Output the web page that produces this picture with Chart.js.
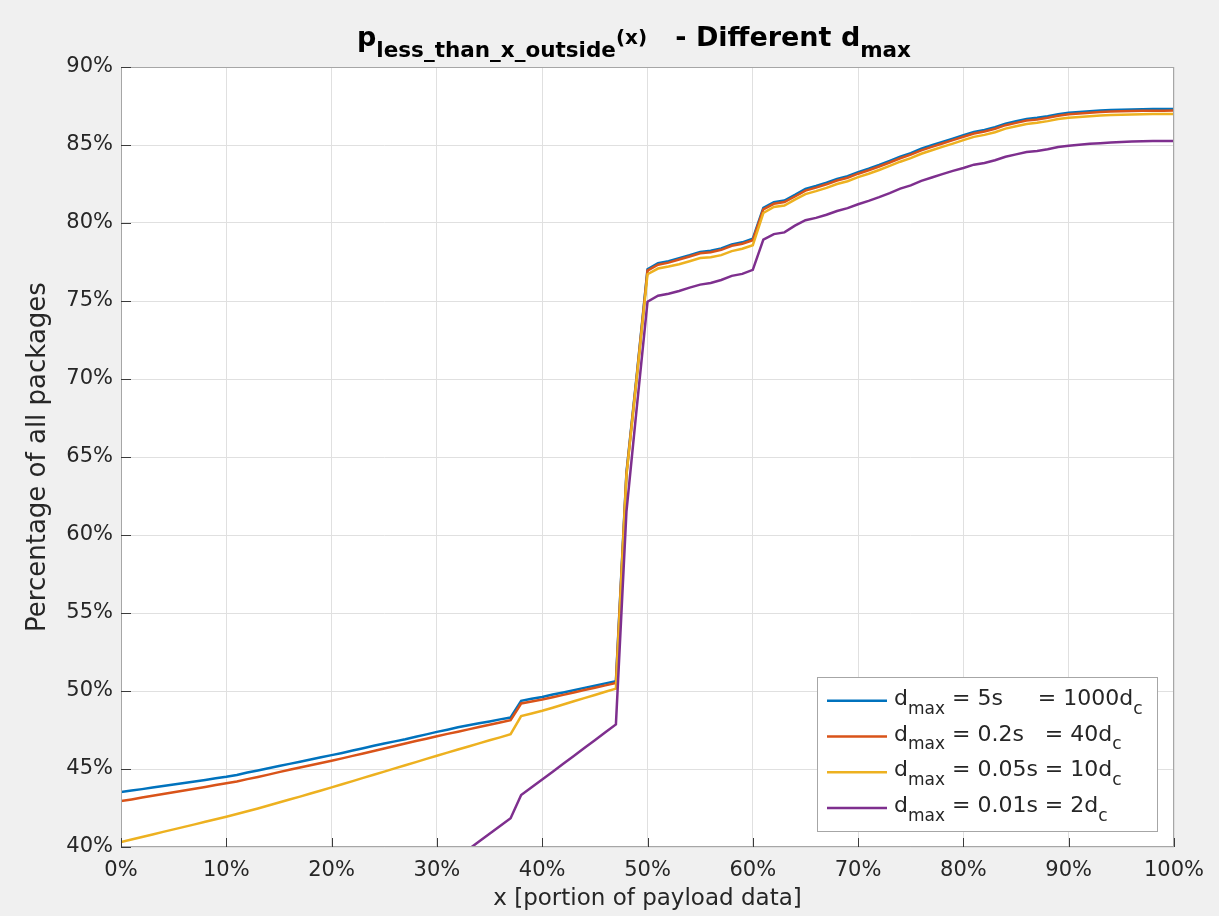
<!DOCTYPE html>
<html>
<head>
<meta charset="utf-8">
<script src="https://cdn.jsdelivr.net/npm/chart.js@4.4.1/dist/chart.umd.min.js"></script>
<style>
  html, body { margin: 0; padding: 0; background: #f0f0f0; }
  #wrap { width: 1219px; height: 916px; }
</style>
</head>
<body>
<div id="wrap"><canvas id="c" width="1219" height="916"></canvas></div>
<script>
// x: portion of payload data, in percent
const xPct = [0,1,2,3,4,5,6,7,8,9,10,11,12,13,14,15,16,17,18,19,20,21,22,23,24,25,26,27,28,29,30,
  31,32,33,34,35,36,37,38,39,40,41,42,43,44,45,46,47,48,49,50,51,52,53,54,55,56,57,58,59,60,
  61,62,63,64,65,66,67,68,69,70,71,72,73,74,75,76,77,78,79,80,81,82,83,84,85,86,87,88,89,90,
  91,92,93,94,95,96,97,98,99,100];

// share of packages (%) with less than x outside, per d_max setting
const dmax5s = [43.52,43.62,43.71,43.81,43.91,44.01,44.10,44.20,44.30,44.40,44.50,44.62,44.77,44.91,45.05,45.19,45.33,45.47,45.61,45.75,
  45.89,46.03,46.18,46.33,46.49,46.63,46.77,46.91,47.07,47.22,47.38,47.52,47.67,47.80,47.93,48.05,48.18,48.30,49.37,49.50,
  49.62,49.77,49.91,50.05,50.20,50.34,50.49,50.63,64.00,70.40,
  77.04,77.42,77.55,77.75,77.94,78.15,78.22,78.37,78.63,78.76,78.99,80.97,81.33,81.44,81.80,82.18,82.37,82.58,82.82,83.00,
  83.26,83.48,83.72,83.98,84.25,84.48,84.76,84.98,85.20,85.41,85.63,85.84,85.97,86.14,86.37,86.52,86.67,86.74,86.85,86.98,
  87.07,87.12,87.17,87.21,87.24,87.26,87.28,87.29,87.30,87.30,87.31];

const dmax02s = [42.94,43.05,43.17,43.28,43.40,43.51,43.62,43.74,43.85,43.97,44.08,44.20,44.35,44.49,44.64,44.80,44.95,45.09,45.24,45.38,
  45.53,45.68,45.84,45.99,46.15,46.31,46.47,46.63,46.79,46.94,47.10,47.25,47.39,47.54,47.69,47.84,47.98,48.13,49.20,49.33,
  49.45,49.60,49.75,49.90,50.06,50.21,50.36,50.51,63.90,70.30,
  76.95,77.33,77.46,77.66,77.85,78.06,78.13,78.28,78.54,78.67,78.90,80.87,81.23,81.34,81.70,82.08,82.27,82.48,82.72,82.90,
  83.16,83.38,83.62,83.88,84.15,84.38,84.66,84.88,85.10,85.31,85.53,85.74,85.87,86.04,86.27,86.42,86.57,86.64,86.75,86.88,
  86.97,87.02,87.07,87.11,87.14,87.16,87.18,87.19,87.20,87.20,87.21];

const dmax005s = [40.32,40.48,40.64,40.80,40.97,41.13,41.29,41.45,41.62,41.78,41.94,42.11,42.29,42.47,42.66,42.85,43.04,43.23,43.43,43.62,
  43.82,44.02,44.22,44.43,44.63,44.83,45.04,45.24,45.44,45.65,45.85,46.05,46.25,46.44,46.64,46.84,47.03,47.23,48.39,48.56,
  48.73,48.93,49.13,49.34,49.54,49.74,49.95,50.15,63.80,70.20,
  76.72,77.08,77.21,77.36,77.55,77.75,77.81,77.94,78.20,78.35,78.58,80.64,81.03,81.12,81.50,81.85,82.04,82.25,82.50,82.68,
  82.94,83.16,83.40,83.66,83.93,84.16,84.44,84.66,84.88,85.09,85.31,85.52,85.65,85.82,86.05,86.20,86.35,86.43,86.53,86.66,
  86.75,86.80,86.85,86.89,86.92,86.94,86.96,86.97,86.98,86.98,86.99];

const dmax001s = [null,null,null,null,null,null,null,null,null,null,null,null,null,null,null,null,null,null,null,null,
  null,null,null,null,null,null,null,null,null,null,null,null,39.35,39.85,40.35,40.85,41.35,41.84,43.33,43.83,
  44.33,44.83,45.34,45.84,46.35,46.85,47.36,47.86,61.50,68.30,
  74.95,75.34,75.47,75.64,75.86,76.05,76.16,76.35,76.61,76.74,77.00,78.93,79.29,79.40,79.83,80.18,80.33,80.53,80.77,80.95,
  81.20,81.42,81.66,81.92,82.20,82.41,82.70,82.92,83.13,83.34,83.53,83.74,83.85,84.02,84.25,84.40,84.55,84.62,84.73,84.87,
  84.95,85.02,85.08,85.12,85.16,85.20,85.22,85.24,85.25,85.25,85.26];

// legend entries as text runs: [text, isSubscript]
const legendEntries = [
  [['d', false], ['max', true], [' = 5s     = 1000d', false], ['c', true]],
  [['d', false], ['max', true], [' = 0.2s   = 40d', false], ['c', true]],
  [['d', false], ['max', true], [' = 0.05s = 10d', false], ['c', true]],
  [['d', false], ['max', true], [' = 0.01s = 2d', false], ['c', true]]
];
const seriesColors = ['#0072BD', '#D95319', '#EDB120', '#7E2F8E'];
const seriesValues = [dmax5s, dmax02s, dmax005s, dmax001s];

const titleRuns = [
  ['p', 'main'], ['less_than_x_outside', 'sub'], ['(x)', 'mid'], ['   - Different d', 'main'], ['max', 'sub']
];
const xTitle = 'x [portion of payload data]';
const yTitle = 'Percentage of all packages';

const FONT = 'DejaVu Sans';
const TEXT = '#262626';

function runFont(kind) {
  if (kind === 'main') return 'bold 27px "' + FONT + '"';
  if (kind === 'mid') return 'bold 20px "' + FONT + '"';
  return 'bold 21.5px "' + FONT + '"';
}

const decor = {
  id: 'decor',
  beforeDraw(chart) {
    const { ctx, chartArea: a } = chart;
    ctx.save();
    ctx.fillStyle = '#f0f0f0';
    ctx.fillRect(0, 0, chart.width, chart.height);
    ctx.fillStyle = '#ffffff';
    ctx.fillRect(a.left, a.top, a.right - a.left, a.bottom - a.top);
    ctx.restore();
  },
  afterDraw(chart) {
    const { ctx, chartArea: a } = chart;
    const xs = chart.scales.x, ys = chart.scales.y;
    ctx.save();

    // axes box
    ctx.strokeStyle = '#a6a6a6';
    ctx.lineWidth = 1;
    ctx.strokeRect(a.left + 0.5, a.top + 0.5, a.right - a.left - 1, a.bottom - a.top - 1);

    // inward tick marks on the left and bottom axes
    ctx.strokeStyle = '#3a3a3a';
    ctx.beginPath();
    ys.ticks.forEach(t => {
      const py = Math.round(ys.getPixelForValue(t.value)) + 0.5;
      ctx.moveTo(a.left, py); ctx.lineTo(a.left + 10, py);
    });
    xs.ticks.forEach(t => {
      const px = Math.round(xs.getPixelForValue(t.value)) + 0.5;
      ctx.moveTo(px, a.bottom); ctx.lineTo(px, a.bottom - 9);
    });
    ctx.stroke();

    // title with subscripts
    ctx.fillStyle = '#000';
    ctx.textBaseline = 'alphabetic';
    ctx.textAlign = 'left';
    const base = 46;
    const offs = { main: 0, sub: 11, mid: -2 };
    let total = 0;
    titleRuns.forEach(([t, k]) => { ctx.font = runFont(k); total += ctx.measureText(t).width; });
    let tx = 634 - total / 2;
    titleRuns.forEach(([t, k]) => {
      ctx.font = runFont(k);
      ctx.fillText(t, tx, base + offs[k]);
      tx += ctx.measureText(t).width;
    });

    // legend
    const lx = 817, ly = 677, lw = 340, lh = 154;
    ctx.fillStyle = '#ffffff';
    ctx.fillRect(lx, ly, lw, lh);
    ctx.strokeStyle = '#a6a6a6';
    ctx.lineWidth = 1;
    ctx.strokeRect(lx + 0.5, ly + 0.5, lw, lh);
    legendEntries.forEach((runs, i) => {
      const cy = 700.7 + i * 35.8;
      ctx.strokeStyle = seriesColors[i];
      ctx.lineWidth = 2.5;
      ctx.beginPath();
      ctx.moveTo(827, cy); ctx.lineTo(887, cy);
      ctx.stroke();
      let px = 894;
      ctx.fillStyle = TEXT;
      runs.forEach(([t, sub]) => {
        ctx.font = sub ? '17px "' + FONT + '"' : '22px "' + FONT + '"';
        ctx.fillText(t, px, cy + (sub ? 12.8 : 4));
        px += ctx.measureText(t).width;
      });
    });
    ctx.restore();
  }
};

const datasets = seriesValues.map((vals, i) => ({
  label: legendEntries[i].map(r => r[0]).join(''),
  data: xPct.map((x, j) => ({ x: x, y: vals[j] })),
  borderColor: seriesColors[i],
  backgroundColor: seriesColors[i],
  borderWidth: 2.5,
  pointRadius: 0,
  tension: 0,
  fill: false,
  spanGaps: false,
  order: 3 - i
}));

new Chart(document.getElementById('c'), {
  type: 'line',
  data: { datasets },
  plugins: [decor],
  options: {
    responsive: false,
    animation: false,
    events: [],
    layout: { padding: { left: 0, right: 45, top: 67, bottom: 0 } },
    plugins: {
      legend: { display: false },
      title: { display: false },
      tooltip: { enabled: false }
    },
    scales: {
      x: {
        type: 'linear', min: 0, max: 100,
        ticks: {
          stepSize: 10, autoSkip: false, maxRotation: 0, padding: 11,
          callback: v => v + '%',
          font: { family: FONT, size: 21 }, color: TEXT
        },
        grid: { color: '#e0e0e0', drawTicks: false },
        border: { display: false },
        title: {
          display: true, text: xTitle, color: TEXT,
          font: { family: FONT, size: 23 }, padding: { top: 0, bottom: 3 }
        },
        afterFit(s) { s.height = 69; }
      },
      y: {
        type: 'linear', min: 40, max: 90,
        ticks: {
          stepSize: 5, padding: 8,
          callback: v => v + '%',
          font: { family: FONT, size: 21 }, color: TEXT
        },
        grid: { color: '#e0e0e0', drawTicks: false },
        border: { display: false },
        title: {
          display: true, text: yTitle, color: TEXT,
          font: { family: FONT, size: 26 }, padding: { top: 23, bottom: 0 }
        },
        afterFit(s) { s.width = 121; }
      }
    }
  }
});
</script>
</body>
</html>
